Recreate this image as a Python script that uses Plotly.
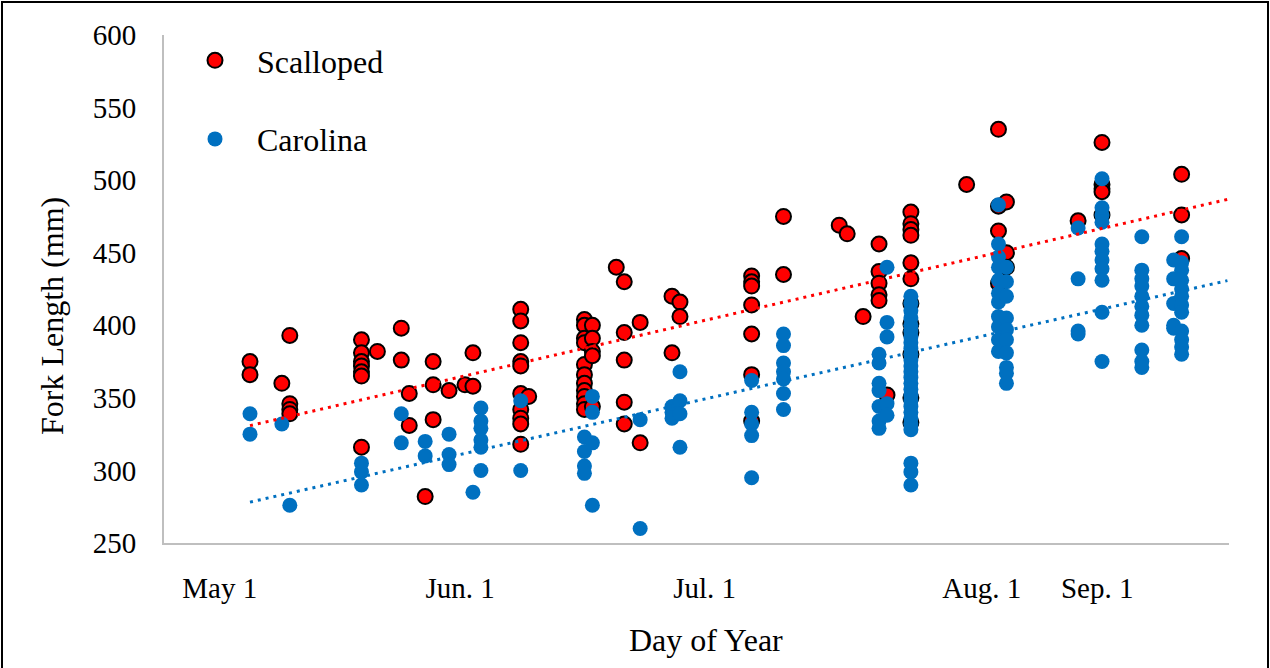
import numpy as np
import plotly.graph_objects as go

# ---- data (day of year, fork length mm) ----
scalloped_day = (
    [125]*2 + [129] + [130]*4 + [139]*7 + [141] + [144]*2 + [145]*2 + [147] + [148]*3 + [150] + [152] + [153]*2 +
    [159]*10 + [160] + [167]*11 + [168]*5 + [171] + [172]*5 + [174]*2 + [178]*2 + [179]*2 +
    [188]*7 + [192]*2 + [199] + [200] + [202] + [204]*5 + [205] + [208]*12 + [215] + [219]*4 + [220]*3 +
    [229] + [232]*5 + [242]*3
)
scalloped_fl = [
    375, 366,
    360,
    393, 346, 342, 339,
    390, 381, 375, 372, 368, 365, 316,
    382,
    398, 376,
    353, 331,
    282,
    375, 359, 335,
    355,
    359,
    381, 358,
    411, 403, 388, 375, 372, 353, 342, 336, 332, 318,
    351,
    404, 400, 391, 388, 373, 366, 360, 355, 351, 346, 342,
    400, 391, 382, 379, 344,
    440,
    430, 395, 376, 347, 332,
    402, 319,
    420, 381,
    416, 406,
    434, 430, 427, 414, 394, 366, 334,
    475, 435,
    469,
    463,
    406,
    456, 437, 429, 421, 417,
    352,
    478, 470, 466, 462, 443, 432, 415, 401, 395, 380, 350, 333,
    497,
    535, 482, 465, 429,
    485, 450, 440,
    472,
    526, 497, 494, 492, 476,
    504, 476, 446,
]

carolina_day = (
    [125]*2 + [129] + [130] + [139]*3 + [144]*2 + [147]*2 + [150]*3 + [153] + [154]*6 + [159]*2 +
    [167]*4 + [168]*4 + [174]*2 + [178]*3 + [179]*4 + [188]*5 + [192]*7 + [204]*7 + [205]*5 +
    [208]*26 + [219]*11 + [220]*10 + [229]*4 + [232]*11 + [237]*11 + [241]*5 + [242]*12
)
carolina_fl = [
    339, 325,
    332,
    276,
    305, 299, 290,
    339, 319,
    320, 310,
    325, 311, 304,
    285,
    343, 334, 329, 321, 316, 300,
    348, 300,
    323, 313, 303, 298,
    351, 340, 319, 276,
    335, 260,
    344, 340, 336,
    368, 348, 339, 316,
    362, 340, 332, 324, 295,
    394, 386, 374, 368, 363, 353, 342,
    380, 374, 360, 355, 344, 334, 329,
    440, 402, 392, 346, 338,
    420, 415, 410, 405, 400, 396, 392, 388, 384, 380, 376, 372, 368, 364, 360, 356, 352,
    348, 344, 340, 336, 332, 328, 305, 299, 290,
    483, 456, 447, 440, 431, 422, 416, 406, 399, 390, 382,
    440, 430, 420, 405, 397, 390, 381, 371, 367, 360,
    467, 432, 396, 394,
    501, 481, 476, 471, 456, 451, 445, 439, 431, 409, 375,
    461, 438, 432, 427, 420, 413, 407, 400, 383, 375, 371,
    445, 432, 415, 400, 398,
    461, 443, 438, 431, 425, 420, 414, 409, 396, 390, 385, 380,
]

tick_labels = ["May 1", "Jun. 1", "Jul. 1", "Aug. 1", "Sep. 1"]
tick_days = [121.2, 151.4, 182.1, 216.9, 231.4]
y_ticks = [250, 300, 350, 400, 450, 500, 550, 600]

X_RANGE = [114.2, 247.95]
Y_RANGE = [250, 600]
FONT = "Liberation Serif, Times New Roman, serif"
RED = "#FF0000"
BLUE = "#0070C0"

fig = go.Figure()
fig.add_trace(go.Scatter(
    x=scalloped_day, y=scalloped_fl, mode="markers", name="Scalloped", legendgroup="s",
    marker=dict(size=15, color=RED, line=dict(color="black", width=2)),
))
fig.add_trace(go.Scatter(
    x=carolina_day, y=carolina_fl, mode="markers", name="Carolina", legendgroup="c",
    marker=dict(size=15, color=BLUE, line=dict(width=0)),
))

# linear trend lines (least squares), extended to the axis end
for xs, ys, col in [(scalloped_day, scalloped_fl, RED), (carolina_day, carolina_fl, BLUE)]:
    k, b = np.polyfit(np.array(xs, float), np.array(ys, float), 1)
    tx = np.array([min(xs), X_RANGE[1] - 0.2])
    fig.add_trace(go.Scatter(
        x=tx, y=k * tx + b, mode="lines", showlegend=False, hoverinfo="skip",
        line=dict(color=col, width=3, dash="3px,5px"),
    ))

W, H = 1270, 668
L, R, T, B = 164, 41, 35, 125
pw, ph = W - L - R, H - T - B


def px_x(p):
    return (p - L) / pw


def px_y(p):
    return (H - B - p) / ph


fig.update_layout(
    width=W, height=H,
    margin=dict(l=L, r=R, t=T, b=B, pad=0),
    paper_bgcolor="white", plot_bgcolor="white",
    font=dict(family=FONT, color="black", size=29),
    showlegend=True,
    legend=dict(
        x=px_x(173), y=px_y(33), xanchor="left", yanchor="top",
        font=dict(size=32, family=FONT), itemwidth=74, tracegroupgap=34,
        bgcolor="rgba(0,0,0,0)",
    ),
    xaxis=dict(
        range=X_RANGE, showgrid=False, zeroline=False,
        showline=True, linecolor="#BFBFBF", linewidth=2,
        tickmode="array", tickvals=tick_days, ticktext=tick_labels,
        ticks="", ticklabelstandoff=18,
        tickfont=dict(size=29, family=FONT),
    ),
    yaxis=dict(
        range=Y_RANGE, showgrid=False, zeroline=False,
        showline=True, linecolor="#BFBFBF", linewidth=2,
        tickmode="array", tickvals=y_ticks,
        ticks="", ticklabelstandoff=20,
        tickfont=dict(size=29, family=FONT),
    ),
    annotations=[
        dict(text="Day of Year", xref="paper", yref="paper", x=px_x(706), y=px_y(640),
             xanchor="center", yanchor="middle", showarrow=False,
             font=dict(size=32, family=FONT, color="black")),
        dict(text="Fork Length (mm)", xref="paper", yref="paper", x=px_x(52), y=px_y(316),
             xanchor="center", yanchor="middle", showarrow=False, textangle=-90,
             font=dict(size=32, family=FONT, color="black")),
    ],
    shapes=[dict(
        type="rect", xref="paper", yref="paper",
        x0=px_x(2), x1=px_x(1268),
        y0=px_y(700), y1=px_y(2),
        line=dict(color="black", width=2), fillcolor="rgba(0,0,0,0)", layer="below",
    )],
)

fig.write_html("out.html")
